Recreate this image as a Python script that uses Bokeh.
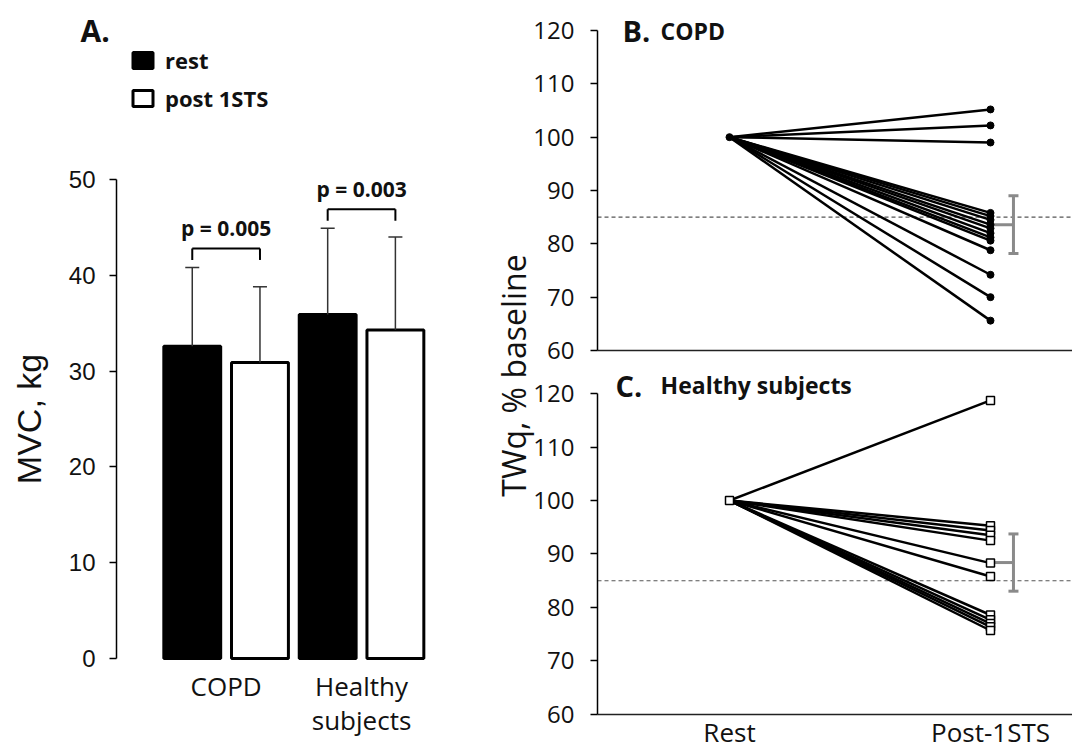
import numpy as np
from bokeh.plotting import figure
from bokeh.models import (ColumnDataSource, Range1d, Whisker, TeeHead, LinearAxis,
                          Legend, LegendItem, Label, FixedTicker)
from bokeh.transform import dodge
from bokeh.layouts import row
from bokeh.embed import file_html
from bokeh.resources import INLINE
from bokeh.core.properties import value

# ---------------- data ----------------
# Panel A: MVC (kg), mean and SD
groups = ["COPD", "Healthy subjects"]
mvc_rest = [32.6, 35.9]
mvc_rest_sd = [8.2, 9.0]
mvc_post = [30.9, 34.3]
mvc_post_sd = [7.9, 9.7]
p_labels = ["p = 0.005", "p = 0.003"]
mvc_ticks = [0, 10, 20, 30, 40, 50]

# Panels B and C: TWq, % baseline
time_points = ["Rest", "Post-1STS"]
baseline = 100
copd_post = [105.2, 102.2, 99.0, 85.8, 85.2, 84.5, 83.6, 82.9, 82.0, 81.2,
             80.6, 78.8, 74.2, 70.0, 65.6]
copd_mean = 83.6
copd_err = 5.4
healthy_post = [118.7, 95.3, 94.4, 93.5, 92.5, 88.3, 85.8, 78.6, 77.7, 77.0,
                76.4, 75.7]
healthy_mean = 88.4
healthy_err = 5.35
threshold = 85
twq_ticks = [60, 70, 80, 90, 100, 110, 120]

SANS = "Open Sans"
ARIAL = "Liberation Sans"
INK = "#111111"
H = 750

# ---------------- panel A ----------------
gx = np.arange(len(groups)) + 0.5
rest_up = np.add(mvc_rest, mvc_rest_sd)
post_up = np.add(mvc_post, mvc_post_sd)
bracket = np.maximum(rest_up, post_up) + 2.0
srcA = ColumnDataSource(dict(gx=gx, rest=mvc_rest, post=mvc_post,
                             rest_up=rest_up, post_up=post_up,
                             br=bracket, leg=bracket - 1.2, ty=bracket + 2.1,
                             plab=p_labels,
                             glab=[g.replace(" ", "\n") for g in groups]))

A_AXIS_X = -0.309
pA = figure(width=471, height=H, x_range=Range1d(-1.166, 2.312),
            y_range=Range1d(-9.60, 68.68),
            output_backend="svg", toolbar_location=None, min_border=0)
pA.grid.visible = False
pA.outline_line_color = None
pA.xaxis.visible = False

xl = dodge("gx", -0.25)
xr = dodge("gx", 0.25)

r_rest = pA.vbar(x=xl, top="rest", width=0.42, bottom=0, source=srcA,
                 fill_color="black", line_color="black", line_width=3)
r_post = pA.vbar(x=xr, top="post", width=0.42, bottom=0, source=srcA,
                 fill_color="white", line_color="black", line_width=3)

for base, lo, up in [(xl, "rest", "rest_up"), (xr, "post", "post_up")]:
    pA.add_layout(Whisker(source=srcA, base=base, lower=lo, upper=up,
                          line_color="#333333", line_width=1.5, level="annotation",
                          upper_head=TeeHead(size=14, line_color="#333333", line_width=1.5),
                          lower_head=None))

pA.segment(x0=xl, y0="br", x1=xr, y1="br", source=srcA, line_color="black", line_width=2)
pA.segment(x0=xl, y0="leg", x1=xl, y1="br", source=srcA, line_color="black", line_width=2)
pA.segment(x0=xr, y0="leg", x1=xr, y1="br", source=srcA, line_color="black", line_width=2)
pA.text(x="gx", y="ty", text="plab", source=srcA, text_font=value(SANS),
        text_font_style="bold", text_font_size="21px", text_align="center",
        text_baseline="middle", text_color=INK)
# group labels under the bars
pA.text(x="gx", y=-0.94, text="glab", source=srcA, text_font=value(SANS),
        text_font_size="26px", text_align="center", text_baseline="top",
        text_line_height=0.97, text_color=INK)

ya = pA.yaxis[0]
ya.fixed_location = A_AXIS_X
ya.ticker = FixedTicker(ticks=mvc_ticks)
ya.bounds = (0, 50)
ya.axis_line_width = 1.5
ya.axis_line_color = "black"
ya.major_tick_out = 7
ya.major_tick_in = 0
ya.major_tick_line_width = 1.5
ya.minor_tick_out = 0
ya.minor_tick_in = 0
ya.major_label_text_font = ARIAL
ya.major_label_text_font_size = "24px"
ya.major_label_text_color = INK
ya.major_label_standoff = 14

pA.add_layout(Label(x=-0.952, y=25, text="MVC, kg", angle=np.pi / 2,
                    text_align="center", text_baseline="middle", text_font=ARIAL,
                    text_font_size="34px", text_color=INK))

legend = Legend(items=[LegendItem(label="rest", renderers=[r_rest]),
                       LegendItem(label="post 1STS", renderers=[r_post])],
                location=(130, 637), glyph_width=25, glyph_height=20, spacing=8,
                padding=0, margin=0, label_standoff=10, label_height=20,
                label_text_font=SANS, label_text_font_style="bold",
                label_text_font_size="22px", label_text_line_height=0.8,
                label_text_color=INK,
                border_line_color=None, background_fill_alpha=0)
pA.add_layout(legend)
pA.add_layout(Label(x=-0.575, y=65.6, text="A.", text_font=SANS, text_font_style="bold",
                    text_font_size="30px", text_baseline="middle", text_align="left",
                    text_color=INK))

# ---------------- panels B and C (one canvas, two y ranges) ----------------
x_pos = list(range(len(time_points)))
BC_AXIS_X = -0.5057
BC_X_END = 1.3142
err_dx = 0.088

pBC = figure(width=601, height=H, x_range=Range1d(-0.9885, BC_X_END),
             y_range=Range1d(-15.0, 125.625),
             output_backend="svg", toolbar_location=None, min_border=0)
pBC.extra_y_ranges = {"C": Range1d(53.27, 193.46)}
pBC.grid.visible = False
pBC.outline_line_color = None


def style_y(ax):
    ax.fixed_location = BC_AXIS_X
    ax.ticker = FixedTicker(ticks=twq_ticks)
    ax.bounds = (60, 120)
    ax.axis_line_width = 1.5
    ax.axis_line_color = "black"
    ax.major_tick_out = 7
    ax.major_tick_in = 0
    ax.major_tick_line_width = 1.5
    ax.minor_tick_out = 0
    ax.minor_tick_in = 0
    ax.major_label_text_font = SANS
    ax.major_label_text_font_size = "24px"
    ax.major_label_text_color = INK
    ax.major_label_standoff = 16


def style_x(ax):
    ax.fixed_location = 60
    ax.bounds = (BC_AXIS_X, BC_X_END)
    ax.axis_line_color = "#222222"
    ax.axis_line_width = 1.5
    ax.major_tick_out = 0
    ax.major_tick_in = 0
    ax.minor_tick_out = 0
    ax.minor_tick_in = 0


yB = pBC.yaxis[0]
style_y(yB)
xB = pBC.xaxis[0]
style_x(xB)
xB.ticker = FixedTicker(ticks=[])

yC = LinearAxis(y_range_name="C")
style_y(yC)
pBC.add_layout(yC, "left")
xC = LinearAxis(y_range_name="C")
style_x(xC)
xC.ticker = FixedTicker(ticks=x_pos)
xC.major_label_overrides = {i: t for i, t in zip(x_pos, time_points)}
xC.major_label_text_font = SANS
xC.major_label_text_font_size = "26px"
xC.major_label_text_color = INK
xC.major_label_standoff = 0
pBC.add_layout(xC, "below")


def twq_panel(rname, post_vals, mean, err, marker, title_a, title_b, ty):
    kwr = {} if rname is None else {"y_range_name": rname}
    n = len(post_vals)
    pBC.segment(x0=BC_AXIS_X, y0=threshold, x1=BC_X_END, y1=threshold,
                line_color="#555555", line_width=1.2, line_dash="4 3", **kwr)
    xs = [[x_pos[0], x_pos[1]] for _ in post_vals]
    ys = [[baseline, v] for v in post_vals]
    pBC.multi_line(xs, ys, line_color="black", line_width=2.5, **kwr)
    msrc = ColumnDataSource(dict(x=[x_pos[1] + err_dx], x0=[x_pos[1]], m=[mean],
                                 lo=[mean - err], hi=[mean + err]))
    pBC.segment(x0="x0", y0="m", x1="x", y1="m", source=msrc, line_color="#8a8a8a",
                line_width=3, **kwr)
    pBC.add_layout(Whisker(source=msrc, base="x", lower="lo", upper="hi",
                           line_color="#8a8a8a", line_width=3, level="annotation",
                           upper_head=TeeHead(size=10, line_color="#8a8a8a", line_width=3),
                           lower_head=TeeHead(size=10, line_color="#8a8a8a", line_width=3),
                           **kwr))
    if marker == "circle":
        kw = dict(marker="circle", size=7, fill_color="black", line_color="black")
    else:
        kw = dict(marker="square", size=8, fill_color="white", line_color="black", line_width=1.5)
    pBC.scatter(x=[x_pos[1]] * n, y=post_vals, **kw, **kwr)
    pBC.scatter(x=[x_pos[0]], y=[baseline], **kw, **kwr)
    pBC.add_layout(Label(x=-0.41 if title_a == "B." else -0.437, y=ty, text=title_a,
                         text_font=SANS, text_font_style="bold", text_font_size="29px",
                         text_baseline="middle", text_align="left", text_color=INK, **kwr))
    pBC.add_layout(Label(x=-0.264, y=ty, text=title_b, text_font=SANS, text_font_style="bold",
                         text_font_size="23px", text_baseline="middle", text_align="left",
                         text_color=INK, **kwr))


twq_panel(None, copd_post, copd_mean, copd_err, "circle", "B.", "COPD", 120.0)
twq_panel("C", healthy_post, healthy_mean, healthy_err, "square", "C.", "Healthy subjects", 121.5)

pBC.add_layout(Label(x=-0.828, y=55.31, text="TWq, % baseline", angle=np.pi / 2,
                     text_align="center", text_baseline="middle", text_font=SANS,
                     text_font_size="32px", text_color=INK))

layout = row(pA, pBC)
open("out.html", "w").write(file_html(layout, INLINE))
